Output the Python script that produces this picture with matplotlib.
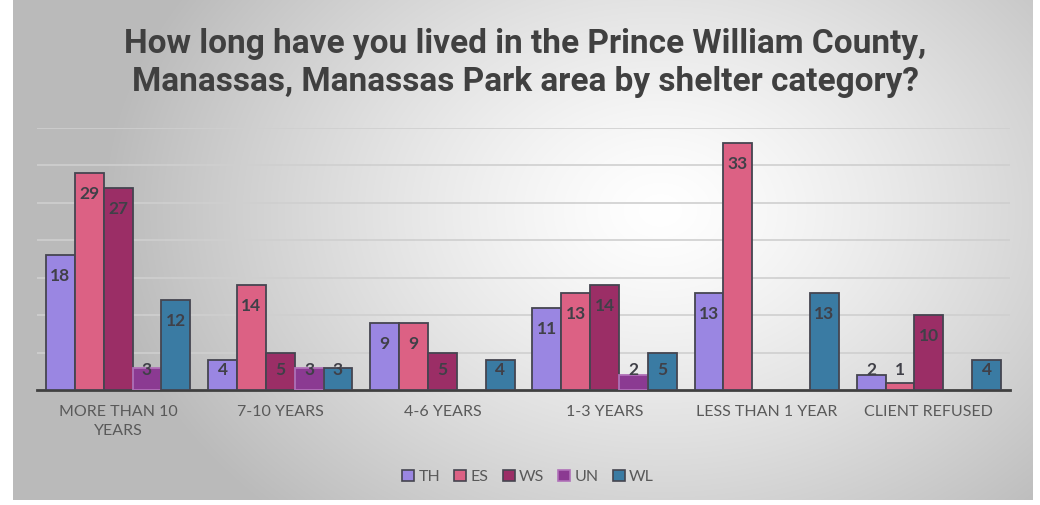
import numpy as np
import matplotlib
matplotlib.use("Agg")
import matplotlib.pyplot as plt
from matplotlib.patches import Patch

# ========== data ==========
categories = ["MORE THAN 10\nYEARS", "7-10 YEARS", "4-6 YEARS", "1-3 YEARS",
              "LESS THAN 1 YEAR", "CLIENT REFUSED"]
series_names = ["TH", "ES", "WS", "UN", "WL"]
th = [18, 4, 9, 11, 13, 2]
es = [29, 14, 9, 13, 33, 1]
ws = [27, 5, 5, 14, 0, 10]
un = [3, 3, 0, 2, 0, 0]
wl = [12, 3, 4, 5, 13, 4]
values = [th, es, ws, un, wl]

colors = ["#9a86e2", "#dc6184", "#9b2e66", "#8b3a92", "#3a7ba3"]
edges = ["#454550", "#454550", "#454550", "#b070b8", "#454550"]
title = "How long have you lived in the Prince William County,\nManassas, Manassas Park area by shelter category?"

W, H = 1040, 505
fig = plt.figure(figsize=(W / 100, H / 100), dpi=100)

# background: white page + radial grey gradient panel
bg = fig.add_axes([0, 0, 1, 1], zorder=-10)
bg.set_xlim(0, W)
bg.set_ylim(H, 0)
bg.axis("off")
yy, xx = np.mgrid[0:500, 13:1033]
d = np.sqrt(((xx - 660) / 560.0) ** 2 + ((yy - 210) / 420.0) ** 2)
t = np.clip(d, 0, 1) ** 1.3
g = 1.0 - 0.27 * t
img = np.dstack([g, g, g])
bg.imshow(img, extent=[13, 1033, 500, 0], aspect="auto", interpolation="bilinear")

ax = fig.add_axes([37 / W, 1 - 390 / H, (1010 - 37) / W, (390 - 128) / H])
ax.patch.set_alpha(0)

n = len(series_names)
x = np.arange(len(categories))
bw = 0.89 / n
for i, (name, vals) in enumerate(zip(series_names, values)):
    pos = x - 0.445 + bw * (i + 0.5)
    for p, v in zip(pos, vals):
        if v == 0:
            continue
        ax.bar(p, v, width=bw, color=colors[i], edgecolor=edges[i], linewidth=1.3, zorder=3)
        ly = max(v - 2.8, 2.7)
        ax.text(p, ly, str(v), ha="center", va="center", fontsize=12.5, fontweight="bold",
                color="#404048", family="Lato", zorder=4)

ax.set_xlim(-0.5, len(categories) - 0.5)
ax.set_ylim(0, 35)
ax.set_yticks(range(5, 36, 5))
ax.yaxis.grid(True, color="#cfcfcf", linewidth=1.2, zorder=0)
ax.tick_params(axis="y", length=0, labelleft=False)
ax.set_xticks(x)
ax.set_xticklabels(categories, fontsize=11.5, color="#595959", family="Lato", linespacing=1.45)
ax.tick_params(axis="x", length=0, pad=11)
for s in ["top", "right", "left"]:
    ax.spines[s].set_visible(False)
ax.spines["bottom"].set_color("#404040")
ax.spines["bottom"].set_linewidth(2)

fig.text(525 / W, 1 - 63 / H, title, ha="center", va="center", fontsize=24,
         fontweight="bold", color="#404040", family="Roboto", linespacing=1.2)

handles = [Patch(facecolor=c, edgecolor=e, linewidth=1.2) for c, e in zip(colors, edges)]
fig.legend(handles, series_names, loc="center", bbox_to_anchor=(528 / W, 1 - 477 / H),
           ncol=5, frameon=False, handlelength=0.75, handleheight=0.75,
           columnspacing=0.9, handletextpad=0.25, labelcolor="#595959",
           prop={"family": "Lato", "size": 11.5})

fig.savefig("out.png", dpi=100)
